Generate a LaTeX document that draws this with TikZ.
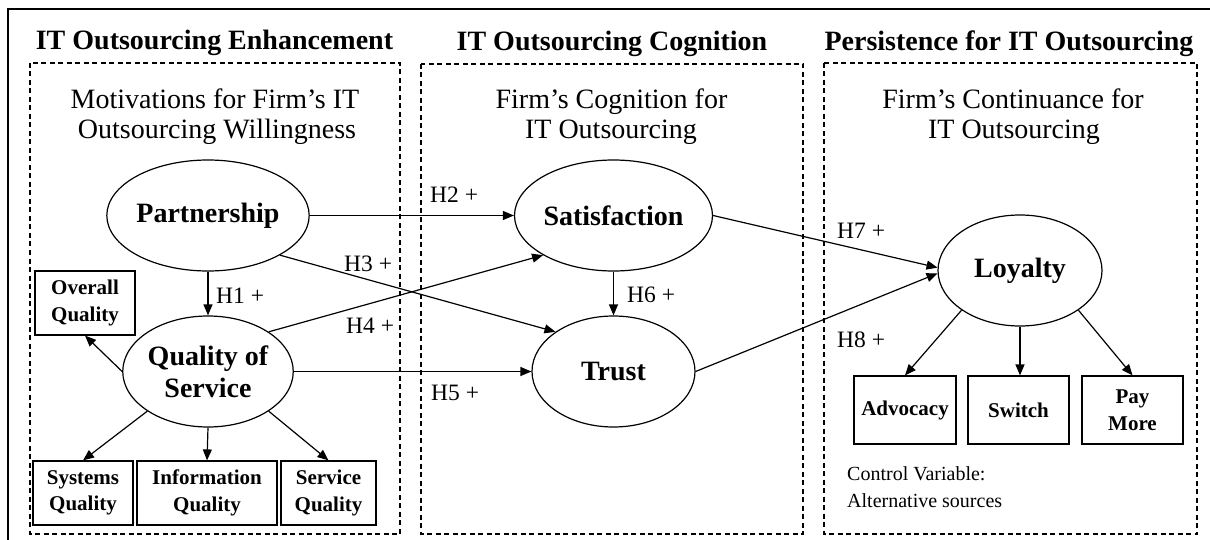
\documentclass[tikz,border=0pt]{standalone}
\usepackage{fontspec}
\setmainfont{Liberation Serif}
\usetikzlibrary{shapes.geometric,arrows.meta,calc}
\begin{document}
\begin{tikzpicture}[x=1pt,y=-1pt,
  lat/.style={ellipse,draw,line width=1.2pt,minimum width=163pt,minimum height=111pt,inner sep=0pt,font=\fontsize{28}{32}\selectfont\bfseries,align=center},
  ind/.style={draw,line width=1.2pt,minimum width=100pt,minimum height=64pt,inner sep=0pt,font=\fontsize{21}{26.5}\selectfont\bfseries,align=center},
  arr/.style={line width=1.2pt,-{Triangle[length=11pt,width=9pt]}},
  grp/.style={draw,line width=1.1pt,dash pattern=on 5pt off 3.5pt},
  ttl/.style={anchor=base,inner sep=0pt,font=\fontsize{28}{30}\selectfont\bfseries},
  sub/.style={anchor=base,inner sep=0pt,font=\fontsize{28}{30}\selectfont},
  hyp/.style={anchor=base west,inner sep=0pt,font=\fontsize{23.5}{26}\selectfont},
  ctl/.style={anchor=base west,inner sep=0pt,font=\fontsize{20}{27}\selectfont}
]
\useasboundingbox (0,0) rectangle (1210,540);
% outer frame
\draw[line width=1.5pt] (8,545) -- (8,9) -- (1215,9);
% groups
\draw[grp] (30,63) rectangle (400,534);
\draw[grp] (421,64) rectangle (803,534);
\draw[grp] (824,63) rectangle (1197,534);
% titles
\node[ttl] (t1) at (214.5,50) {IT Outsourcing Enhancement};
\node[ttl] (t2) at (612,51) {IT Outsourcing Cognition};
\node[ttl] (t3) at (1009,51) {Persistence for IT Outsourcing};
% subtitles
\node[sub] (s1a) at (215,109) {Motivations for Firm’s IT};
\node[sub] (s1b) at (217,139) {Outsourcing Willingness};
\node[sub] (s2a) at (611.5,109) {Firm’s Cognition for};
\node[sub] (s2b) at (611,139) {IT Outsourcing};
\node[sub] (s3a) at (1013,109) {Firm’s Continuance for};
\node[sub] (s3b) at (1014,139) {IT Outsourcing};
% latent constructs
\node[lat] (part) at (208,215.5) {Partnership};
\node[lat] (qos) at (208,371.5) {Quality of\\Service};
\node[lat] (sat) at (613.5,215.5) {Satisfaction};
\node[lat] (tru) at (613.5,371.5) {Trust};
\node[lat,minimum width=164pt] (loy) at (1020,270.5) {Loyalty};
% indicators
\node[ind] (ovr) at (85,303) {Overall\\Quality};
\node[ind] (sys) at (83,493) {Systems\\Quality};
\node[ind,minimum width=140pt] (inf) at (207,493) {Information\\Quality};
\node[ind,minimum width=95pt] (srv) at (328.5,493) {Service\\Quality};
\node[ind,minimum width=102pt,minimum height=68pt] (adv) at (905,410) {Advocacy};
\node[ind,minimum width=101pt,minimum height=68pt] (swi) at (1018.5,410) {Switch};
\node[ind,minimum width=101pt,minimum height=68pt] (pay) at (1132.5,410) {Pay\\More};
% control variable
\node[ctl] (cv1) at (847,480) {Control Variable:};
\node[ctl] (cv2) at (847,507) {Alternative sources};
% structural paths
\draw[arr] (part.south) -- (qos.north);
\draw[arr] (part.east) -- (sat.west);
\draw[arr] (part.south east) -- (tru.north west);
\draw[arr] (qos.north east) -- (sat.south west);
\draw[arr] (qos.east) -- (tru.west);
\draw[arr] (sat.south) -- (tru.north);
\draw[arr] (sat.east) -- (loy.178);
\draw[arr] (tru.east) -- (loy.182);
% measurement paths
\draw[arr] (qos.west) -- (ovr.south);
\draw[arr] (qos.south west) -- (sys.north);
\draw[arr] (qos.south) -- (inf.north);
\draw[arr] (qos.south east) -- (srv.north);
\draw[arr] (loy.south west) -- (adv.north);
\draw[arr] (loy.south) -- (loy.south |- swi.north);
\draw[arr] (loy.south east) -- (pay.north);
% hypothesis labels
\node[hyp] (h1) at (216,303) {H1 +};
\node[hyp] (h2) at (430,203) {H2 +};
\node[hyp] (h3) at (344,271) {H3 +};
\node[hyp] (h4) at (346,333) {H4 +};
\node[hyp] (h5) at (431,400) {H5 +};
\node[hyp] (h6) at (627,302) {H6 +};
\node[hyp] (h7) at (837,238) {H7 +};
\node[hyp] (h8) at (837,347) {H8 +};
\end{tikzpicture}
\end{document}
